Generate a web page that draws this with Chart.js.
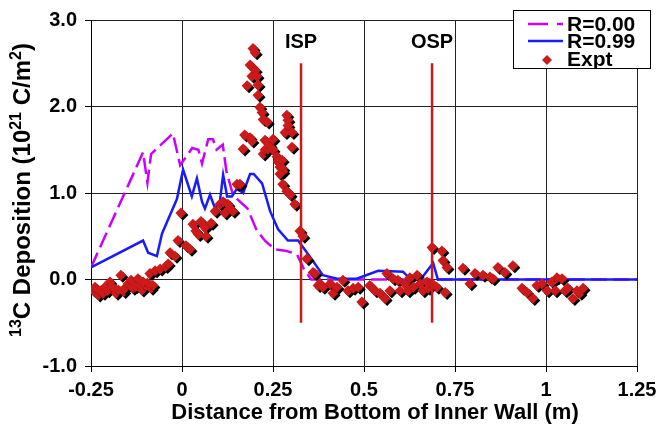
<!DOCTYPE html>
<html>
<head>
<meta charset="utf-8">
<script src="https://cdn.jsdelivr.net/npm/chart.js@4.4.0/dist/chart.umd.min.js"></script>
<style>
  html, body { margin: 0; padding: 0; background: #fff; }
</style>
</head>
<body>
<canvas id="deposisi" width="670" height="434"></canvas>
<script>
// model R=0.00 (dashed)
var r0X = [-0.25, -0.107, -0.095, -0.085, -0.025, -0.005, 0.028, 0.045, 0.055, 0.072, 0.085, 0.095, 0.112, 0.122, 0.14, 0.154, 0.18, 0.206, 0.23, 0.255, 0.288, 0.316, 0.335, 0.355, 1.25];
var r0Y = [0.14, 1.47, 1.12, 1.45, 1.69, 1.32, 1.52, 1.50, 1.34, 1.62, 1.62, 1.50, 1.56, 1.25, 0.98, 0.92, 0.82, 0.56, 0.44, 0.35, 0.33, 0.29, 0.12, 0.0, 0.0];

// model R=0.99 (solid)
var r99X = [-0.25, -0.107, -0.093, -0.069, -0.055, -0.014, 0.003, 0.027, 0.041, 0.055, 0.063, 0.077, 0.091, 0.104, 0.113, 0.124, 0.137, 0.151, 0.168, 0.187, 0.197, 0.22, 0.242, 0.264, 0.291, 0.319, 0.352, 0.387, 0.426, 0.48, 0.539, 0.607, 0.626, 0.659, 0.69, 0.703, 1.25];
var r99Y = [0.14, 0.45, 0.31, 0.27, 0.53, 0.93, 1.27, 0.96, 1.17, 0.90, 0.82, 0.98, 0.82, 0.90, 1.21, 0.96, 0.96, 1.05, 1.0, 1.22, 1.22, 1.11, 0.79, 0.58, 0.45, 0.45, 0.26, 0.05, 0.01, 0.01, 0.10, 0.09, 0.01, 0.02, 0.19, 0.0, 0.0];

// measured points
var exptX = [-0.245, -0.239, -0.23, -0.225, -0.217, -0.212, -0.205, -0.198, -0.19, -0.181, -0.175, -0.168, -0.16, -0.157, -0.148, -0.14, -0.135, -0.128, -0.121, -0.115, -0.11, -0.107, -0.099, -0.095, -0.088, -0.085, -0.080, -0.074, -0.06, -0.045, -0.038, -0.033, -0.019, -0.011, -0.003, 0.011, 0.022, 0.030, 0.038, 0.045, 0.052, 0.063, 0.066, 0.080, 0.091, 0.104, 0.113, 0.118, 0.126, 0.132, 0.14, 0.151, 0.159,
  0.168, 0.172, 0.179, 0.187, 0.187, 0.192, 0.192, 0.195, 0.201, 0.201, 0.206, 0.209, 0.209, 0.214, 0.220, 0.223, 0.223, 0.228, 0.228, 0.234, 0.236, 0.242, 0.25, 0.25, 0.261, 0.264, 0.269, 0.275, 0.277, 0.277, 0.269, 0.283, 0.288, 0.291, 0.291, 0.302, 0.302, 0.277, 0.288, 0.297, 0.31, 0.324, 0.332, 0.343, 0.36, 0.365, 0.374, 0.379,
  0.387, 0.407, 0.415, 0.426, 0.442, 0.456, 0.47, 0.484, 0.494, 0.516, 0.53, 0.544, 0.558, 0.563, 0.571, 0.58, 0.593, 0.599, 0.613, 0.621, 0.626, 0.635, 0.646, 0.654, 0.662, 0.673, 0.676, 0.687, 0.687, 0.70, 0.714, 0.717, 0.723, 0.728,
  0.772, 0.791, 0.805, 0.827, 0.846, 0.854, 0.868, 0.887, 0.909, 0.934, 0.948, 0.964, 0.975, 0.989, 1.003, 1.016, 1.025, 1.03, 1.044, 1.052, 1.06, 1.074, 1.085, 1.093, 1.102];
var exptY = [-0.12, -0.09, -0.18, -0.13, -0.16, -0.09, -0.13, -0.03, -0.09, -0.16, -0.12, 0.05, -0.14, -0.10, -0.05, -0.01, -0.10, -0.08, 0.01, -0.07, -0.12, -0.03, -0.07, -0.04, 0.07, -0.10, -0.07, 0.10, 0.12, 0.15, 0.18, 0.31, 0.27, 0.45, 0.77, 0.39, 0.35, 0.64, 0.56, 0.52, 0.67, 0.60, 0.50, 0.65, 0.79, 0.87, 0.90, 0.77, 0.87, 0.82, 0.79, 1.10, 1.10,
  1.51, 1.67, 2.24, 1.64, 2.48, 2.35, 1.60, 2.67, 2.62, 2.42, 2.35, 2.25, 2.13, 1.99, 1.93, 1.85, 1.45, 1.61, 1.50, 1.82, 1.51, 1.55, 1.62, 1.50, 1.42, 1.36, 1.30, 1.38, 1.28, 1.25, 1.22, 1.70, 1.90, 1.84, 1.78, 1.70, 1.53, 1.10, 1.02, 0.98, 0.87, 0.56, 0.50, 0.24, 0.08, 0.07, -0.07, -0.05,
  -0.09, -0.05, -0.16, -0.09, -0.01, -0.13, -0.10, -0.09, -0.26, -0.07, -0.13, -0.16, -0.22, 0.07, -0.13, 0.01, -0.01, -0.13, -0.05, -0.13, 0.02, -0.09, 0.05, -0.05, -0.13, -0.03, -0.10, 0.37, -0.05, -0.09, 0.33, 0.22, -0.15, 0.14,
  0.13, -0.05, 0.07, 0.05, 0.03, 0.01, 0.14, 0.08, 0.16, -0.10, -0.15, -0.22, -0.07, -0.05, -0.13, -0.03, -0.13, 0.02, 0.01, -0.13, -0.10, -0.22, -0.13, -0.16, -0.10];

// strike points
var spNames = ['ISP', 'OSP'];
var spX = [0.327, 0.687];
var spY = [-0.5, 2.5];

var xTicks = [-0.25, 0, 0.25, 0.5, 0.75, 1, 1.25];
var yTicks = [-1, 0, 1, 2, 3];

var RED = '#cc1a1a';
var BLUE = '#1a1aff';
var MAGENTA = '#cc00ff';
var FAMILY = '"Liberation Sans", Arial, sans-serif';

function pts(xs, ys) {
  return xs.map(function (x, i) { return { x: x, y: ys[i] }; });
}

var shadowPlugin = {
  id: 'diamondShadow',
  beforeDatasetDraw: function (chart, args) {
    if (chart.data.datasets[args.index].label !== 'Expt') return;
    var ctx = chart.ctx;
    ctx.save();
    ctx.shadowColor = '#000';
    ctx.shadowOffsetX = 2;
    ctx.shadowOffsetY = 2;
    ctx.shadowBlur = 0;
  },
  afterDatasetDraw: function (chart, args) {
    if (chart.data.datasets[args.index].label !== 'Expt') return;
    chart.ctx.restore();
  }
};

// y title with real superscripts, drawn rotated
var yTitleParts = [['13', true], ['C Deposition (10', false], ['21', true], [' C/m', false], ['2', true], [')', false]];
var xTitle = 'Distance from Bottom of Inner Wall (m)';

function drawYTitle(ctx, cx, cy) {
  var big = 'bold 24px ' + FAMILY, small = 'bold 16px ' + FAMILY;
  var total = 0;
  yTitleParts.forEach(function (p) {
    ctx.font = p[1] ? small : big;
    total += ctx.measureText(p[0]).width;
  });
  ctx.save();
  ctx.translate(cx, cy);
  ctx.rotate(-Math.PI / 2);
  ctx.fillStyle = '#000';
  ctx.textAlign = 'left';
  ctx.textBaseline = 'alphabetic';
  var x = -total / 2;
  yTitleParts.forEach(function (p) {
    ctx.font = p[1] ? small : big;
    ctx.fillText(p[0], x, p[1] ? 0 : 9);
    x += ctx.measureText(p[0]).width;
  });
  ctx.restore();
}

var labelsPlugin = {
  id: 'spLabels',
  afterDraw: function (chart) {
    var ctx = chart.ctx;
    var xs = chart.scales.x, ys = chart.scales.y;
    ctx.save();
    drawYTitle(ctx, 21, 190);

    ctx.fillStyle = '#000';
    ctx.textAlign = 'center';
    ctx.textBaseline = 'middle';
    ctx.font = 'bold 22px ' + FAMILY;
    ctx.fillText(xTitle, 375, 413);

    ctx.font = 'bold 20px ' + FAMILY;
    spNames.forEach(function (n, i) {
      ctx.fillText(n, xs.getPixelForValue(spX[i]), ys.getPixelForValue(2.74));
    });

    // legend box
    var bx = 513, by = 10, bw = 137, bh = 58;
    ctx.fillStyle = '#fff';
    ctx.fillRect(bx, by, bw, bh);
    ctx.strokeStyle = '#000';
    ctx.lineWidth = 1;
    ctx.strokeRect(bx + 0.5, by + 0.5, bw, bh);

    ctx.lineWidth = 2.5;
    ctx.strokeStyle = MAGENTA;
    ctx.beginPath();
    ctx.moveTo(528, 24); ctx.lineTo(548, 24);
    ctx.moveTo(557, 24); ctx.lineTo(563, 24);
    ctx.stroke();
    ctx.strokeStyle = BLUE;
    ctx.beginPath();
    ctx.moveTo(528, 41); ctx.lineTo(563, 41);
    ctx.stroke();
    ctx.fillStyle = RED;
    ctx.beginPath();
    ctx.moveTo(547, 55); ctx.lineTo(552, 60); ctx.lineTo(547, 65); ctx.lineTo(542, 60);
    ctx.closePath();
    ctx.fill();

    ctx.fillStyle = '#000';
    ctx.textAlign = 'left';
    ctx.font = 'bold 21px ' + FAMILY;
    ctx.fillText('R=0.00', 567, 25);
    ctx.fillText('R=0.99', 567, 42);
    ctx.save();
    ctx.beginPath();
    ctx.rect(bx, by, bw, bh);
    ctx.clip();
    ctx.fillText('Expt', 567, 60);
    ctx.restore();
    ctx.restore();
  }
};

var ctx = document.getElementById('deposisi').getContext('2d');
var datasets = [];
spNames.forEach(function (n, i) {
  datasets.push({
    label: n,
    data: pts([spX[i], spX[i]], spY),
    showLine: true,
    borderColor: RED,
    borderWidth: 2.5,
    pointRadius: 0,
    order: 0
  });
});
datasets.push({
  label: 'Expt',
  data: pts(exptX, exptY),
  pointStyle: 'rectRot',
  pointRadius: 5.5,
  backgroundColor: RED,
  borderWidth: 0,
  order: 1
});
datasets.push({
  label: 'R=0.99',
  data: pts(r99X, r99Y),
  showLine: true,
  borderColor: BLUE,
  borderWidth: 2.5,
  pointRadius: 0,
  order: 2
});
datasets.push({
  label: 'R=0.00',
  data: pts(r0X, r0Y),
  showLine: true,
  borderColor: MAGENTA,
  borderWidth: 2.5,
  borderDash: [16, 6],
  pointRadius: 0,
  order: 3
});

var tickFont = { family: FAMILY, size: 20, weight: 'bold' };

new Chart(ctx, {
  type: 'scatter',
  data: { datasets: datasets },
  options: {
    responsive: false,
    animation: false,
    layout: { padding: { left: 0, right: 33, top: 16, bottom: 0 } },
    plugins: { legend: { display: false }, tooltip: { enabled: false } },
    scales: {
      x: {
        min: -0.25, max: 1.25,
        afterBuildTicks: function (axis) { axis.ticks = xTicks.map(function (v) { return { value: v }; }); },
        afterFit: function (axis) { axis.height = 68; },
        grid: { color: '#222', tickColor: '#000', tickLength: 6 },
        border: { color: '#000', width: 1 },
        ticks: { color: '#000', font: tickFont, padding: 6, maxRotation: 0, callback: function (v) { return String(v); } }
      },
      y: {
        min: -1, max: 3,
        afterBuildTicks: function (axis) { axis.ticks = yTicks.map(function (v) { return { value: v }; }); },
        afterFit: function (axis) { axis.width = 91; },
        grid: { color: '#222', tickColor: '#000', tickLength: 6 },
        border: { color: '#000', width: 1 },
        ticks: { color: '#000', font: tickFont, padding: 8, callback: function (v) { return v.toFixed(1); } }
      }
    }
  },
  plugins: [shadowPlugin, labelsPlugin]
});
</script>
</body>
</html>
